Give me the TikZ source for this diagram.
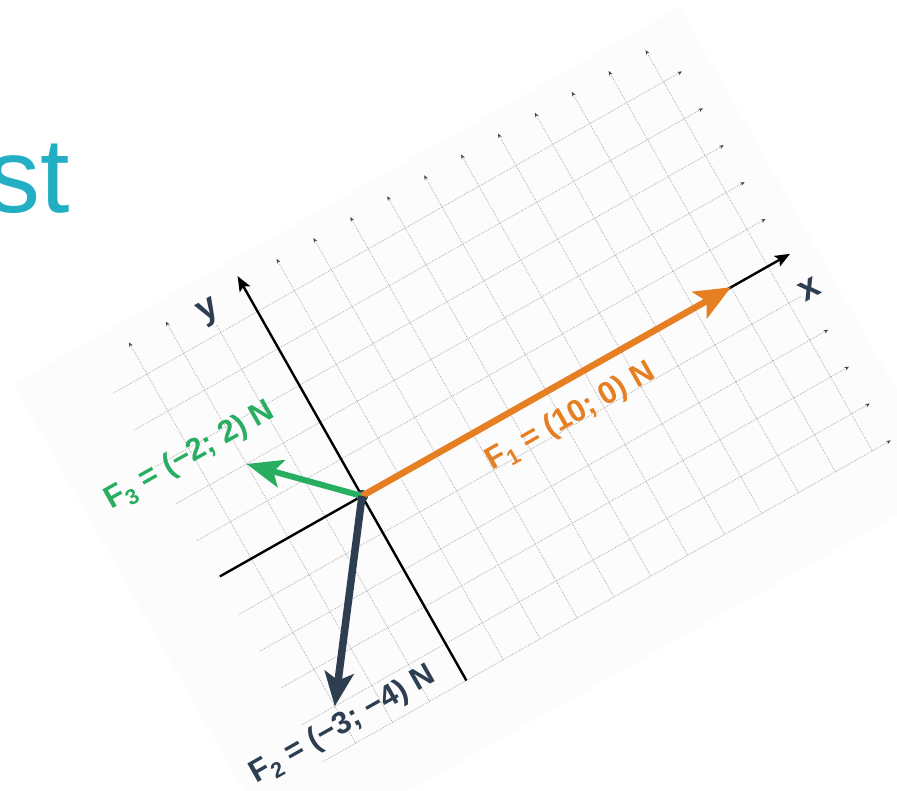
\documentclass[tikz,border=0pt]{standalone}
\usepackage{fontspec}
\setmainfont{Liberation Sans}
\usetikzlibrary{arrows.meta}
\definecolor{forange}{HTML}{E67E22}
\definecolor{fgreen}{HTML}{27AE60}
\definecolor{fnavy}{HTML}{2C3E50}
\definecolor{fteal}{HTML}{22AFC3}
\definecolor{sheet}{HTML}{FCFCFC}
\begin{document}
\begin{tikzpicture}[x=1pt,y=1pt,
  gridline/.style={densely dotted, draw=black!35, line width=0.7pt},
  gridtip/.style={-{Stealth[length=4.5pt,width=3.6pt,color=black!75]}},
  axisline/.style={draw=black, line width=2.4pt, -{Stealth[length=15pt,width=12pt,inset=3pt]}},
  forcevec/.style={line width=6.5pt, -{Stealth[length=36pt,width=30pt,inset=8pt]}},
  forcelabel/.style={rotate=29.5, font=\fontsize{31}{31}\selectfont\bfseries, inner sep=0pt},
  axislabel/.style={rotate=29.5, font=\fontsize{36}{36}\selectfont\bfseries, text=fnavy, fill=sheet, inner sep=1pt}
]
\useasboundingbox (0,-790) rectangle (897,0);
\clip (0,-790) rectangle (897,0);
\fill[white] (0,-790) rectangle (897,0);
\node[anchor=base east, inner sep=0pt, text=fteal, font=\fontsize{106}{106}\selectfont] (title) at (70,-212) {st};
\begin{scope}[shift={(362,-496)}, rotate=29.5, x=42.4pt, y=42.4pt]
  \fill[sheet] (-5.85,-6.6) rectangle (12.2,6.35);
  \foreach \u in {-3,...,11} \draw[gridline, gridtip] (\u,-5) -- (\u,5.86);
  \foreach \v in {-5,...,5} \draw[gridline, gridtip] (-3.9,\v) -- (11.5,\v);
  \coordinate (O) at (0,0);
  \coordinate (xs) at (-3.85,0);
  \coordinate (xe) at (11.6,0);
  \coordinate (ys) at (0,-5);
  \coordinate (ye) at (0,5.96);
  \coordinate (F1) at (10,0);
  \coordinate (F2) at (-3,-4);
  \coordinate (F3) at (-2,2);
  \draw[axisline] (xs) -- (xe);
  \draw[axisline] (ys) -- (ye);
  \fill[fnavy] (O) circle (6pt);
  \draw[forcevec, fgreen, line width=6pt, -{Stealth[length=36pt,width=28pt,inset=8pt]}] (O) -- (F3);
  \draw[forcevec, forange] (O) -- (F1);
  \draw[forcevec, fnavy, line width=7.5pt, -{Stealth[length=34pt,width=29pt,inset=8pt]}] (O) -- (F2);
  \node[forcelabel, text=forange] (L1) at (5.2,-0.8) {F\textsubscript{1} = (10; 0) N};
  \node[forcelabel, text=fnavy] (L2) at (-3.05,-4.48) {F\textsubscript{2} = (−3; −4) N};
  \node[forcelabel, text=fgreen] (L3) at (-3.07,2.82) {F\textsubscript{3} = (−2; 2) N};
  \node[axislabel] (ly) at (-1.0,5.55) {y};
  \node[axislabel] (lx) at (11.6,-0.95) {x};
\end{scope}
\end{tikzpicture}
\end{document}
